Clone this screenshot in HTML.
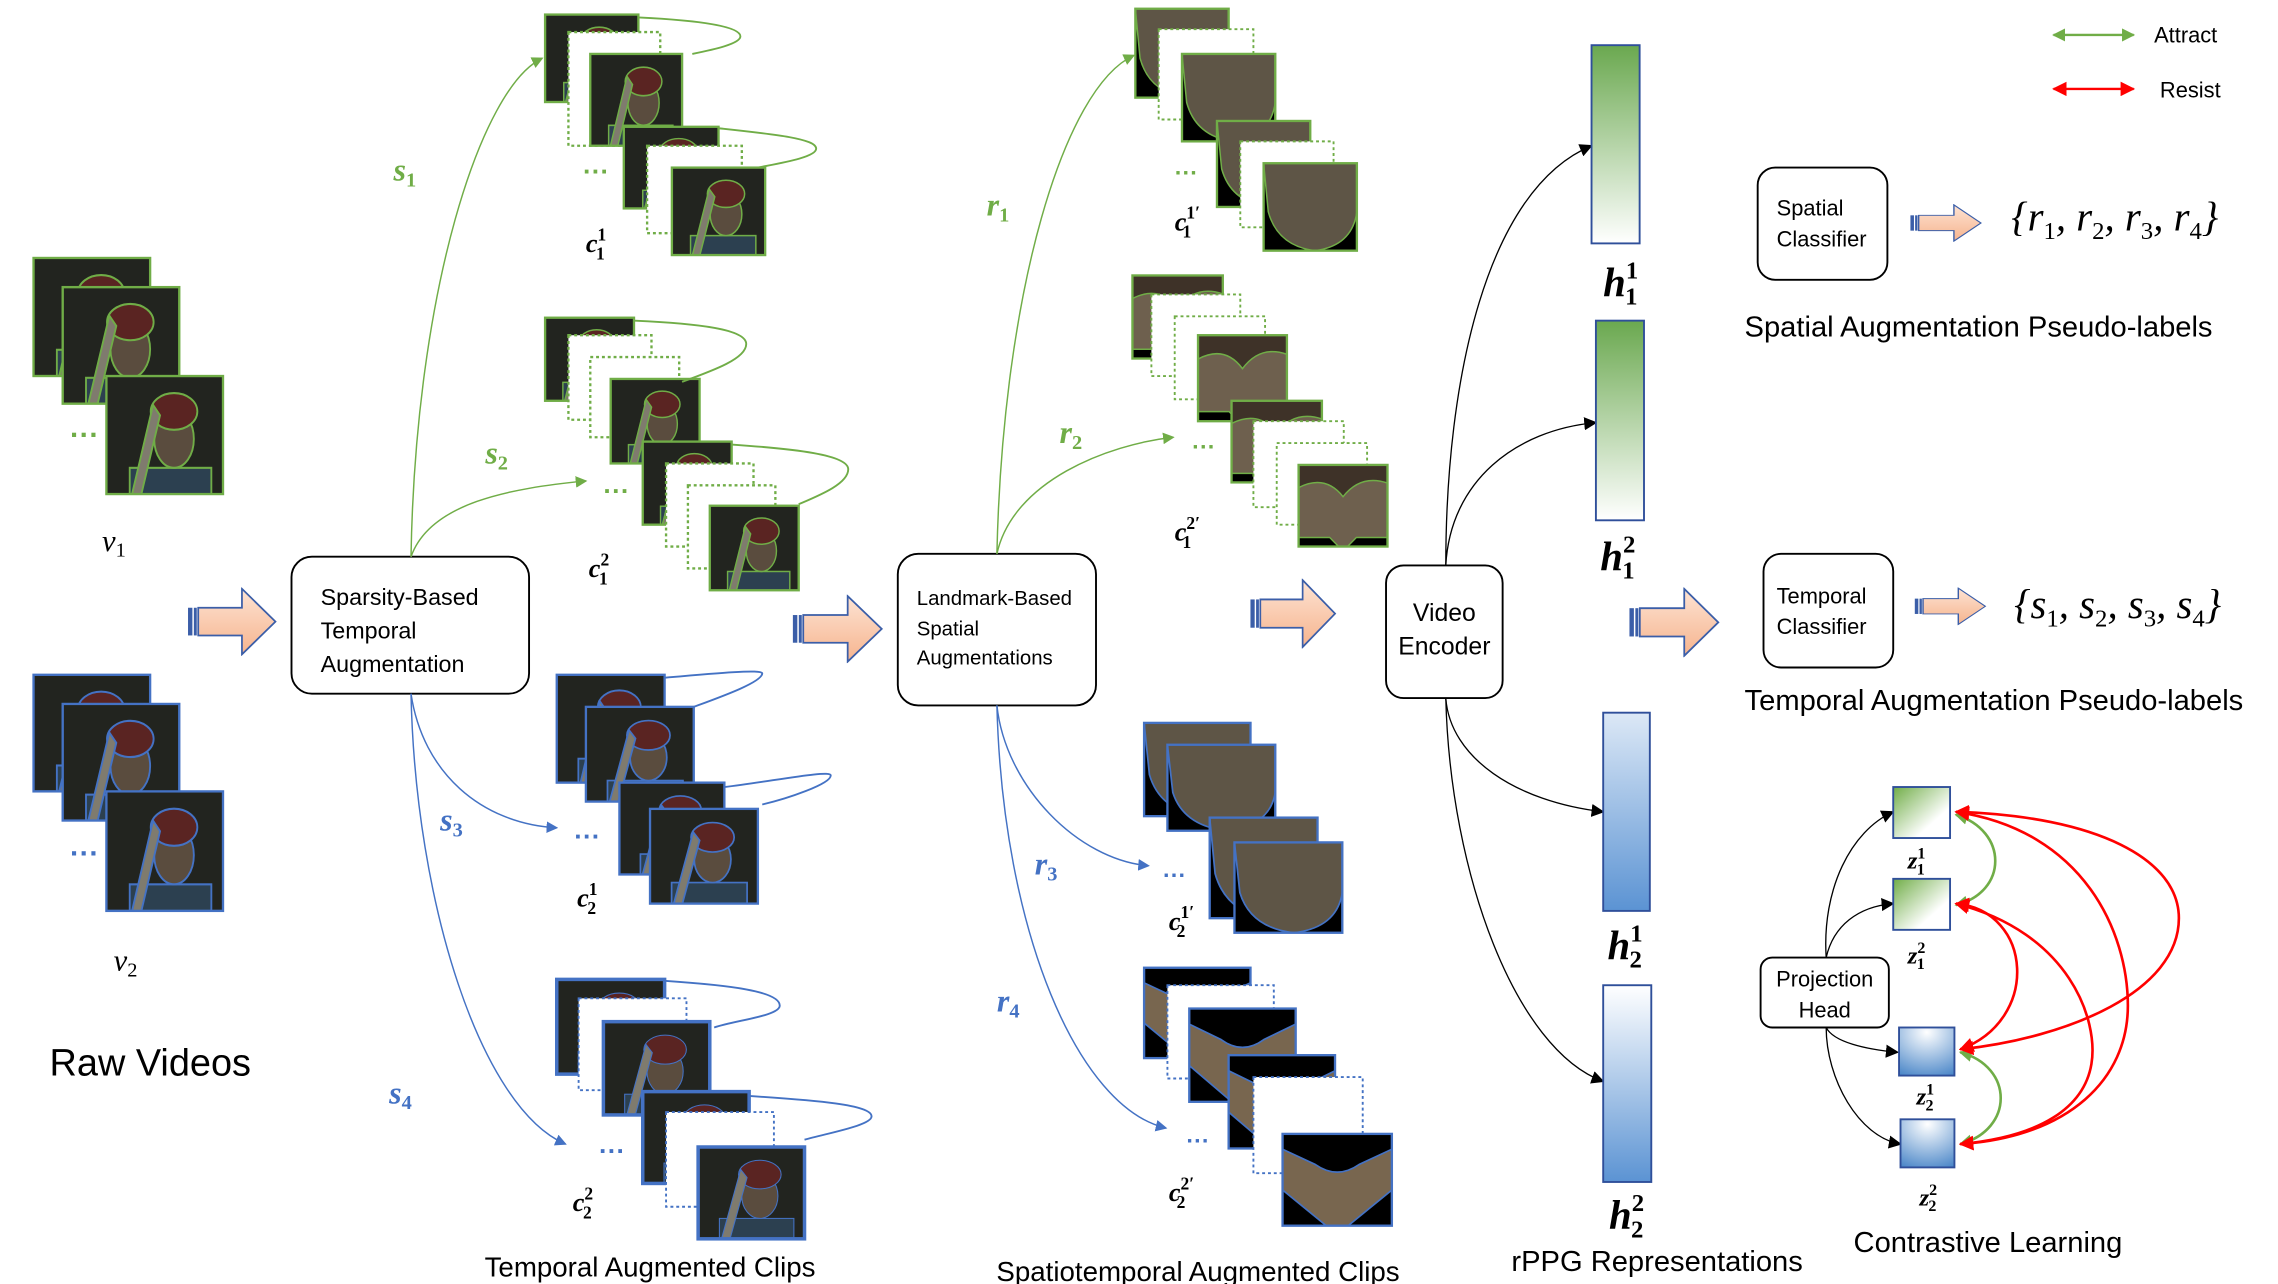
<!DOCTYPE html>
<html><head><meta charset="utf-8"><style>
html,body{margin:0;padding:0;background:#fff;}
svg{display:block;}
text{font-family:"Liberation Sans","DejaVu Sans",sans-serif;}
.m{font-family:"Liberation Serif","DejaVu Serif",serif;font-style:italic;}
</style></head><body>
<svg width="2278" height="1284" viewBox="0 0 1563 881" xmlns="http://www.w3.org/2000/svg">
<defs>
<linearGradient id="ba" x1="0" y1="0" x2="0" y2="1"><stop offset="0" stop-color="#fde3d3"/><stop offset="1" stop-color="#f6b48e"/></linearGradient>
<linearGradient id="gv" x1="0" y1="0" x2="0" y2="1"><stop offset="0" stop-color="#6aa84f"/><stop offset="1" stop-color="#fff"/></linearGradient>
<linearGradient id="bv" x1="0" y1="0" x2="0" y2="1"><stop offset="0" stop-color="#dce8f6"/><stop offset="1" stop-color="#5b93d3"/></linearGradient>
<linearGradient id="bw" x1="0" y1="0" x2="0" y2="1"><stop offset="0" stop-color="#fff"/><stop offset="1" stop-color="#5b93d3"/></linearGradient>
<linearGradient id="gz" x1="0" y1="0" x2="1" y2="1"><stop offset="0" stop-color="#70ad47"/><stop offset="0.7" stop-color="#fff"/></linearGradient>
<radialGradient id="bz" cx="0.5" cy="0.1" r="1"><stop offset="0" stop-color="#fff"/><stop offset="1" stop-color="#4a86c8"/></radialGradient>
<symbol id="p" viewBox="0 0 100 90" preserveAspectRatio="none"><rect width="100" height="90" fill="#22241f"/><rect x="20" y="70" width="70" height="20" fill="#2c4050"/><ellipse cx="58" cy="48" rx="17" ry="22" fill="#5a4c3e"/><ellipse cx="58" cy="27" rx="20" ry="14" fill="#5a2422"/><path d="M40 22 L22 90 L30 90 L46 30Z" fill="#7f7b6e"/></symbol>
<symbol id="f" viewBox="0 0 100 90" preserveAspectRatio="none"><rect width="100" height="90" fill="#000"/><path d="M0 0H100V50Q95 85 55 90Q15 85 5 50Z" fill="#5e5546"/></symbol>
<symbol id="h" viewBox="0 0 100 90" preserveAspectRatio="none"><rect width="100" height="90" fill="#6e604e"/><path d="M0 0H100V20Q70 10 50 35Q30 10 0 25Z" fill="#3e3228"/><path d="M0 80H35L45 90H0Z M100 80H65L55 90H100Z" fill="#000"/></symbol>
<symbol id="c" viewBox="0 0 100 90" preserveAspectRatio="none"><rect width="100" height="90" fill="#000"/><path d="M0 15L30 30Q50 45 70 30L100 15V55L60 90H40L0 55Z" fill="#78664f"/></symbol>
<marker id="ag" markerWidth="8" markerHeight="8" refX="7" refY="4" orient="auto" markerUnits="userSpaceOnUse"><path d="M0 0L8 4L0 8Z" fill="#70ad47"/></marker>
<marker id="ab" markerWidth="8" markerHeight="8" refX="7" refY="4" orient="auto" markerUnits="userSpaceOnUse"><path d="M0 0L8 4L0 8Z" fill="#4472c4"/></marker>
<marker id="ak" markerWidth="9" markerHeight="9" refX="8" refY="4.5" orient="auto" markerUnits="userSpaceOnUse"><path d="M0 0L9 4.5L0 9Z" fill="#000"/></marker>
<marker id="ar" markerWidth="10" markerHeight="10" refX="9" refY="5" orient="auto-start-reverse" markerUnits="userSpaceOnUse"><path d="M0 0L10 5L0 10Z" fill="#f00"/></marker>
<marker id="aG" markerWidth="9" markerHeight="9" refX="8" refY="4.5" orient="auto-start-reverse" markerUnits="userSpaceOnUse"><path d="M0 0L9 4.5L0 9Z" fill="#70ad47"/></marker>
<symbol id="B" viewBox="0 0 62 47" preserveAspectRatio="none"><path d="M8 14H38V1L61 23.5L38 46V33H8Z" fill="url(#ba)" stroke="#3b5ea8" stroke-width="1.2"/><rect x="1" y="14" width="3" height="19" fill="#3b5ea8"/><rect x="5" y="14" width="2" height="19" fill="#3b5ea8"/></symbol>
</defs>

<!-- Raw videos -->
<g stroke="#70ad47" stroke-width="1.6">
<use href="#p" x="23" y="177" width="80" height="81"/><rect x="23" y="177" width="80" height="81" fill="none"/>
<use href="#p" x="43" y="197" width="80" height="80"/><rect x="43" y="197" width="80" height="80" fill="none"/>
<use href="#p" x="73" y="258" width="80" height="81"/><rect x="73" y="258" width="80" height="81" fill="none"/>
</g>
<text x="48" y="305" fill="#70ad47" font-size="20" font-weight="bold">···</text>
<text class="m" x="70" y="378" font-size="21">v<tspan font-size="14" dy="4" font-style="normal">1</tspan></text>
<g stroke="#4472c4" stroke-width="1.6">
<use href="#p" x="23" y="463" width="80" height="80"/><rect x="23" y="463" width="80" height="80" fill="none"/>
<use href="#p" x="43" y="483" width="80" height="80"/><rect x="43" y="483" width="80" height="80" fill="none"/>
<use href="#p" x="73" y="543" width="80" height="82"/><rect x="73" y="543" width="80" height="82" fill="none"/>
</g>
<text x="48" y="592" fill="#4472c4" font-size="20" font-weight="bold">···</text>
<text class="m" x="78" y="666" font-size="21">v<tspan font-size="14" dy="4" font-style="normal">2</tspan></text>
<text x="34" y="738" font-size="26">Raw Videos</text>

<use href="#B" x="128" y="403" width="62" height="47"/>
<rect x="200" y="382" width="163" height="94" rx="14" fill="#fff" stroke="#000" stroke-width="1.3"/>
<text x="220" y="415" font-size="16">Sparsity-Based</text>
<text x="220" y="438" font-size="16">Temporal</text>
<text x="220" y="461" font-size="16">Augmentation</text>

<g fill="none" stroke-width="1">
<path d="M282 382C285 200 330 60 372 40" stroke="#70ad47" marker-end="url(#ag)"/>
<path d="M282 382C295 345 350 335 402 330" stroke="#70ad47" marker-end="url(#ag)"/>
<path d="M282 476C290 530 330 565 382 568" stroke="#4472c4" marker-end="url(#ab)"/>
<path d="M282 476C285 620 330 760 388 785" stroke="#4472c4" marker-end="url(#ab)"/>
</g>
<text class="m" x="270" y="124" fill="#70ad47" font-size="22" font-weight="bold">s<tspan font-size="14" dy="4" font-style="normal">1</tspan></text>
<text class="m" x="333" y="318" fill="#70ad47" font-size="22" font-weight="bold">s<tspan font-size="14" dy="4" font-style="normal">2</tspan></text>
<text class="m" x="302" y="570" fill="#4472c4" font-size="22" font-weight="bold">s<tspan font-size="14" dy="4" font-style="normal">3</tspan></text>
<text class="m" x="267" y="757" fill="#4472c4" font-size="22" font-weight="bold">s<tspan font-size="14" dy="4" font-style="normal">4</tspan></text>

<!-- c1^1 -->
<g stroke="#70ad47" stroke-width="1.6">
<use href="#p" x="374" y="10" width="64" height="60"/><rect x="374" y="10" width="64" height="60" fill="none"/>
<rect x="390" y="22" width="63" height="78" fill="#fff" stroke-dasharray="2,2"/>
<use href="#p" x="405" y="37" width="63" height="63"/><rect x="405" y="37" width="63" height="63" fill="none"/>
<use href="#p" x="428" y="87" width="65" height="56"/><rect x="428" y="87" width="65" height="56" fill="none"/>
<rect x="444" y="100" width="65" height="60" fill="#fff" stroke-dasharray="2,2"/>
<use href="#p" x="461" y="115" width="64" height="60"/><rect x="461" y="115" width="64" height="60" fill="none"/>
<path d="M438 12C480 14 508 18 508 25C508 30 490 34 475 37M493 88C530 92 560 95 560 102C560 108 535 112 520 115" fill="none" stroke-width="1.3"/>
</g>
<text x="400" y="124" fill="#70ad47" font-size="18" font-weight="bold">···</text>
<text class="m" x="402" y="173" font-size="18" font-weight="bold">c<tspan font-size="12" dy="-8" font-style="normal">1</tspan><tspan font-size="12" dx="-7" dy="13" font-style="normal">1</tspan></text>

<!-- c1^2 -->
<g stroke="#70ad47" stroke-width="1.6">
<use href="#p" x="374" y="218" width="61" height="57"/><rect x="374" y="218" width="61" height="57" fill="none"/>
<rect x="390" y="230" width="57" height="58" fill="#fff" stroke-dasharray="2,2"/>
<rect x="405" y="245" width="61" height="55" fill="#fff" stroke-dasharray="2,2"/>
<use href="#p" x="419" y="260" width="61" height="58"/><rect x="419" y="260" width="61" height="58" fill="none"/>
<use href="#p" x="441" y="303" width="61" height="57"/><rect x="441" y="303" width="61" height="57" fill="none"/>
<rect x="457" y="318" width="60" height="57" fill="#fff" stroke-dasharray="2,2"/>
<rect x="472" y="333" width="60" height="57" fill="#fff" stroke-dasharray="2,2"/>
<use href="#p" x="487" y="347" width="61" height="58"/><rect x="487" y="347" width="61" height="58" fill="none"/>
<path d="M435 220C480 222 512 226 512 236C512 246 490 254 468 262M502 305C545 308 582 312 582 322C582 332 562 340 548 346" fill="none" stroke-width="1.3"/>
</g>
<text x="414" y="343" fill="#70ad47" font-size="18" font-weight="bold">···</text>
<text class="m" x="404" y="396" font-size="18" font-weight="bold">c<tspan font-size="12" dy="-8" font-style="normal">2</tspan><tspan font-size="12" dx="-7" dy="13" font-style="normal">1</tspan></text>

<!-- c2^1 -->
<g stroke="#4472c4" stroke-width="1.6">
<use href="#p" x="382" y="463" width="74" height="74"/><rect x="382" y="463" width="74" height="74" fill="none"/>
<use href="#p" x="402" y="485" width="74" height="65"/><rect x="402" y="485" width="74" height="65" fill="none"/>
<use href="#p" x="425" y="537" width="72" height="63"/><rect x="425" y="537" width="72" height="63" fill="none"/>
<use href="#p" x="446" y="555" width="74" height="65"/><rect x="446" y="555" width="74" height="65" fill="none"/>
<path d="M456 465C490 462 523 459 523 462C523 468 495 478 476 485M497 540C530 536 570 528 570 532C570 538 540 548 523 552" fill="none" stroke-width="1.3"/>
</g>
<text x="394" y="580" fill="#4472c4" font-size="18" font-weight="bold">···</text>
<text class="m" x="396" y="622" font-size="18" font-weight="bold">c<tspan font-size="12" dy="-8" font-style="normal">1</tspan><tspan font-size="12" dx="-7" dy="13" font-style="normal">2</tspan></text>

<!-- c2^2 -->
<g stroke="#4472c4">
<use href="#p" x="382" y="672" width="74" height="65"/><rect x="382" y="672" width="74" height="65" fill="none" stroke-width="2.4"/>
<rect x="397" y="685" width="74" height="63" fill="#fff" stroke-dasharray="2,2" stroke-width="1.3"/>
<use href="#p" x="414" y="701" width="73" height="64"/><rect x="414" y="701" width="73" height="64" fill="none" stroke-width="2.4"/>
<use href="#p" x="441" y="749" width="73" height="63"/><rect x="441" y="749" width="73" height="63" fill="none" stroke-width="2.4"/>
<rect x="457" y="763" width="74" height="65" fill="#fff" stroke-dasharray="2,2" stroke-width="1.3"/>
<use href="#p" x="479" y="787" width="73" height="63"/><rect x="479" y="787" width="73" height="63" fill="none" stroke-width="2.4"/>
<path d="M456 673C500 676 535 680 535 690C535 697 505 700 490 705M514 752C560 755 598 758 598 766C598 772 570 777 552 782" fill="none" stroke-width="1.3"/>
</g>
<text x="411" y="796" fill="#4472c4" font-size="18" font-weight="bold">···</text>
<text class="m" x="393" y="831" font-size="18" font-weight="bold">c<tspan font-size="12" dy="-8" font-style="normal">2</tspan><tspan font-size="12" dx="-7" dy="13" font-style="normal">2</tspan></text>
<text x="446" y="876" font-size="19" text-anchor="middle">Temporal Augmented Clips</text>

<use href="#B" x="543" y="408" width="63" height="47"/>
<rect x="616" y="380" width="136" height="104" rx="14" fill="#fff" stroke="#000" stroke-width="1.3"/>
<text x="629" y="415" font-size="14">Landmark-Based</text>
<text x="629" y="436" font-size="14">Spatial</text>
<text x="629" y="456" font-size="14">Augmentations</text>

<g fill="none" stroke-width="1">
<path d="M684 380C688 200 730 60 778 38" stroke="#70ad47" marker-end="url(#ag)"/>
<path d="M684 380C695 330 760 305 805 300" stroke="#70ad47" marker-end="url(#ag)"/>
<path d="M684 484C690 540 740 590 788 594" stroke="#4472c4" marker-end="url(#ab)"/>
<path d="M684 484C688 640 740 760 800 774" stroke="#4472c4" marker-end="url(#ab)"/>
</g>
<text class="m" x="677" y="148" fill="#70ad47" font-size="22" font-weight="bold">r<tspan font-size="14" dy="4" font-style="normal">1</tspan></text>
<text class="m" x="727" y="304" fill="#70ad47" font-size="22" font-weight="bold">r<tspan font-size="14" dy="4" font-style="normal">2</tspan></text>
<text class="m" x="710" y="600" fill="#4472c4" font-size="22" font-weight="bold">r<tspan font-size="14" dy="4" font-style="normal">3</tspan></text>
<text class="m" x="684" y="694" fill="#4472c4" font-size="22" font-weight="bold">r<tspan font-size="14" dy="4" font-style="normal">4</tspan></text>

<!-- c1^1' -->
<g stroke="#70ad47" stroke-width="1.6">
<use href="#f" x="779" y="6" width="64" height="61"/><rect x="779" y="6" width="64" height="61" fill="none"/>
<rect x="795" y="20" width="65" height="62" fill="#fff" stroke-dasharray="2,2" stroke-width="1.3"/>
<use href="#f" x="811" y="37" width="64" height="60"/><rect x="811" y="37" width="64" height="60" fill="none"/>
<use href="#f" x="835" y="83" width="64" height="59"/><rect x="835" y="83" width="64" height="59" fill="none"/>
<rect x="851" y="97" width="64" height="59" fill="#fff" stroke-dasharray="2,2" stroke-width="1.3"/>
<use href="#f" x="867" y="112" width="64" height="60"/><rect x="867" y="112" width="64" height="60" fill="none"/>
</g>
<text x="806" y="124" fill="#70ad47" font-size="16" font-weight="bold">···</text>
<text class="m" x="806" y="158" font-size="18" font-weight="bold">c<tspan font-size="12" dy="-8" font-style="normal">1′</tspan><tspan font-size="12" dx="-12" dy="13" font-style="normal">1</tspan></text>

<!-- c1^2' -->
<g stroke="#70ad47" stroke-width="1.6">
<use href="#h" x="777" y="189" width="62" height="57"/><rect x="777" y="189" width="62" height="57" fill="none"/>
<rect x="790" y="202" width="61" height="56" fill="#fff" stroke-dasharray="2,2" stroke-width="1.3"/>
<rect x="806" y="217" width="62" height="57" fill="#fff" stroke-dasharray="2,2" stroke-width="1.3"/>
<use href="#h" x="822" y="230" width="61" height="59"/><rect x="822" y="230" width="61" height="59" fill="none"/>
<use href="#h" x="845" y="275" width="62" height="56"/><rect x="845" y="275" width="62" height="56" fill="none"/>
<rect x="860" y="289" width="62" height="59" fill="#fff" stroke-dasharray="2,2" stroke-width="1.3"/>
<rect x="876" y="304" width="62" height="56" fill="#fff" stroke-dasharray="2,2" stroke-width="1.3"/>
<use href="#h" x="891" y="319" width="61" height="56"/><rect x="891" y="319" width="61" height="56" fill="none"/>
</g>
<text x="818" y="312" fill="#70ad47" font-size="16" font-weight="bold">···</text>
<text class="m" x="806" y="371" font-size="18" font-weight="bold">c<tspan font-size="12" dy="-8" font-style="normal">2′</tspan><tspan font-size="12" dx="-12" dy="13" font-style="normal">1</tspan></text>

<!-- c2^1' -->
<g stroke="#4472c4" stroke-width="1.6">
<use href="#f" x="785" y="496" width="73" height="64"/><rect x="785" y="496" width="73" height="64" fill="none"/>
<use href="#f" x="801" y="511" width="74" height="59"/><rect x="801" y="511" width="74" height="59" fill="none"/>
<use href="#f" x="830" y="561" width="74" height="69"/><rect x="830" y="561" width="74" height="69" fill="none"/>
<use href="#f" x="847" y="578" width="74" height="62"/><rect x="847" y="578" width="74" height="62" fill="none"/>
</g>
<text x="798" y="606" fill="#4472c4" font-size="16" font-weight="bold">···</text>
<text class="m" x="802" y="638" font-size="18" font-weight="bold">c<tspan font-size="12" dy="-8" font-style="normal">1′</tspan><tspan font-size="12" dx="-12" dy="13" font-style="normal">2</tspan></text>

<!-- c2^2' -->
<g stroke="#4472c4" stroke-width="1.6">
<use href="#c" x="785" y="664" width="73" height="62"/><rect x="785" y="664" width="73" height="62" fill="none"/>
<rect x="801" y="676" width="73" height="64" fill="#fff" stroke-dasharray="2,2" stroke-width="1.3"/>
<use href="#c" x="816" y="692" width="73" height="64"/><rect x="816" y="692" width="73" height="64" fill="none"/>
<use href="#c" x="843" y="724" width="73" height="64"/><rect x="843" y="724" width="73" height="64" fill="none"/>
<rect x="860" y="739" width="75" height="66" fill="#fff" stroke-dasharray="2,2" stroke-width="1.3"/>
<use href="#c" x="880" y="778" width="75" height="63"/><rect x="880" y="778" width="75" height="63" fill="none"/>
</g>
<text x="814" y="788" fill="#4472c4" font-size="16" font-weight="bold">···</text>
<text class="m" x="802" y="824" font-size="18" font-weight="bold">c<tspan font-size="12" dy="-8" font-style="normal">2′</tspan><tspan font-size="12" dx="-12" dy="13" font-style="normal">2</tspan></text>
<text x="822" y="879" font-size="19" text-anchor="middle">Spatiotemporal Augmented Clips</text>

<use href="#B" x="857" y="397" width="60" height="48"/>
<rect x="951" y="388" width="80" height="91" rx="12" fill="#fff" stroke="#000" stroke-width="1.3"/>
<text x="991" y="426" font-size="17" text-anchor="middle">Video</text>
<text x="991" y="449" font-size="17" text-anchor="middle">Encoder</text>

<g fill="none" stroke="#000" stroke-width="0.9">
<path d="M992 388C992 260 1020 130 1092 100" marker-end="url(#ak)"/>
<path d="M992 388C995 330 1040 295 1095 290" marker-end="url(#ak)"/>
<path d="M992 479C995 520 1040 550 1100 557" marker-end="url(#ak)"/>
<path d="M992 479C995 600 1040 720 1100 742" marker-end="url(#ak)"/>
</g>
<rect x="1092" y="31" width="33" height="136" fill="url(#gv)" stroke="#2f4f9a" stroke-width="1.3"/>
<rect x="1095" y="220" width="33" height="137" fill="url(#gv)" stroke="#2f4f9a" stroke-width="1.3"/>
<rect x="1100" y="489" width="32" height="136" fill="url(#bv)" stroke="#2f4f9a" stroke-width="1.3"/>
<rect x="1100" y="676" width="33" height="135" fill="url(#bw)" stroke="#2f4f9a" stroke-width="1.3"/>
<text class="m" x="1100" y="203" font-size="28" font-weight="bold">h<tspan font-size="17" dy="-12" font-style="normal">1</tspan><tspan font-size="17" dx="-9" dy="18" font-style="normal">1</tspan></text>
<text class="m" x="1098" y="391" font-size="28" font-weight="bold">h<tspan font-size="17" dy="-12" font-style="normal">2</tspan><tspan font-size="17" dx="-9" dy="18" font-style="normal">1</tspan></text>
<text class="m" x="1103" y="658" font-size="28" font-weight="bold">h<tspan font-size="17" dy="-12" font-style="normal">1</tspan><tspan font-size="17" dx="-9" dy="18" font-style="normal">2</tspan></text>
<text class="m" x="1104" y="843" font-size="28" font-weight="bold">h<tspan font-size="17" dy="-12" font-style="normal">2</tspan><tspan font-size="17" dx="-9" dy="18" font-style="normal">2</tspan></text>
<text x="1137" y="872" font-size="20" text-anchor="middle">rPPG Representations</text>

<use href="#B" x="1117" y="403" width="63" height="48"/>

<line x1="1409" y1="24" x2="1464" y2="24" stroke="#70ad47" stroke-width="1.6" marker-start="url(#aG)" marker-end="url(#aG)"/>
<text x="1478" y="29" font-size="15">Attract</text>
<line x1="1409" y1="61" x2="1464" y2="61" stroke="#f00" stroke-width="1.6" marker-start="url(#ar)" marker-end="url(#ar)"/>
<text x="1482" y="67" font-size="15">Resist</text>

<rect x="1206" y="115" width="89" height="77" rx="12" fill="#fff" stroke="#000" stroke-width="1.3"/>
<text x="1219" y="148" font-size="15">Spatial</text>
<text x="1219" y="169" font-size="15">Classifier</text>
<use href="#B" x="1310" y="140" width="50" height="26"/>
<text class="m" x="1380" y="158" font-size="28">{r<tspan font-size="17" dy="6" font-style="normal">1</tspan><tspan dy="-6">, r</tspan><tspan font-size="17" dy="6" font-style="normal">2</tspan><tspan dy="-6">, r</tspan><tspan font-size="17" dy="6" font-style="normal">3</tspan><tspan dy="-6">, r</tspan><tspan font-size="17" dy="6" font-style="normal">4</tspan><tspan dy="-6">}</tspan></text>
<text x="1197" y="231" font-size="20">Spatial Augmentation Pseudo-labels</text>

<rect x="1210" y="380" width="89" height="78" rx="12" fill="#fff" stroke="#000" stroke-width="1.3"/>
<text x="1219" y="414" font-size="15">Temporal</text>
<text x="1219" y="435" font-size="15">Classifier</text>
<use href="#B" x="1313" y="403" width="50" height="26"/>
<text class="m" x="1382" y="424" font-size="28">{s<tspan font-size="17" dy="6" font-style="normal">1</tspan><tspan dy="-6">, s</tspan><tspan font-size="17" dy="6" font-style="normal">2</tspan><tspan dy="-6">, s</tspan><tspan font-size="17" dy="6" font-style="normal">3</tspan><tspan dy="-6">, s</tspan><tspan font-size="17" dy="6" font-style="normal">4</tspan><tspan dy="-6">}</tspan></text>
<text x="1197" y="487" font-size="20">Temporal Augmentation Pseudo-labels</text>

<g fill="none" stroke="#000" stroke-width="0.9">
<path d="M1253 657C1250 610 1270 570 1299 557" marker-end="url(#ak)"/>
<path d="M1253 657C1258 635 1275 622 1299 620" marker-end="url(#ak)"/>
<path d="M1253 705C1258 715 1280 720 1302 722" marker-end="url(#ak)"/>
<path d="M1253 705C1253 740 1275 780 1304 785" marker-end="url(#ak)"/>
</g>
<rect x="1208" y="657" width="88" height="48" rx="8" fill="#fff" stroke="#000" stroke-width="1.3"/>
<text x="1252" y="677" font-size="15" text-anchor="middle">Projection</text>
<text x="1252" y="698" font-size="15" text-anchor="middle">Head</text>
<rect x="1299" y="540" width="39" height="35" fill="url(#gz)" stroke="#2f4f9a" stroke-width="1.3"/>
<rect x="1299" y="603" width="39" height="35" fill="url(#gz)" stroke="#2f4f9a" stroke-width="1.3"/>
<rect x="1303" y="705" width="38" height="33" fill="url(#bz)" stroke="#2f4f9a" stroke-width="1.3"/>
<rect x="1304" y="768" width="37" height="33" fill="url(#bz)" stroke="#2f4f9a" stroke-width="1.3"/>
<g fill="none" stroke-width="1.8">
<path d="M1342 559C1378 570 1378 612 1342 621" stroke="#70ad47" marker-start="url(#aG)" marker-end="url(#aG)"/>
<path d="M1345 722C1382 732 1382 775 1345 785" stroke="#70ad47" marker-start="url(#aG)" marker-end="url(#aG)"/>
<path d="M1342 557C1440 560 1495 590 1495 630C1495 680 1420 712 1345 720" stroke="#f00" marker-start="url(#ar)" marker-end="url(#ar)"/>
<path d="M1342 557C1430 570 1460 640 1460 690C1460 740 1420 780 1345 785" stroke="#f00" marker-start="url(#ar)" marker-end="url(#ar)"/>
<path d="M1342 620C1395 625 1400 700 1345 720" stroke="#f00" marker-start="url(#ar)" marker-end="url(#ar)"/>
<path d="M1342 620C1420 640 1440 700 1435 730C1430 760 1400 780 1345 785" stroke="#f00" marker-start="url(#ar)" marker-end="url(#ar)"/>
</g>
<text class="m" x="1309" y="596" font-size="17" font-weight="bold">z<tspan font-size="11" dy="-7" font-style="normal">1</tspan><tspan font-size="11" dx="-6" dy="11" font-style="normal">1</tspan></text>
<text class="m" x="1309" y="661" font-size="17" font-weight="bold">z<tspan font-size="11" dy="-7" font-style="normal">2</tspan><tspan font-size="11" dx="-6" dy="11" font-style="normal">1</tspan></text>
<text class="m" x="1315" y="758" font-size="17" font-weight="bold">z<tspan font-size="11" dy="-7" font-style="normal">1</tspan><tspan font-size="11" dx="-6" dy="11" font-style="normal">2</tspan></text>
<text class="m" x="1317" y="827" font-size="17" font-weight="bold">z<tspan font-size="11" dy="-7" font-style="normal">2</tspan><tspan font-size="11" dx="-6" dy="11" font-style="normal">2</tspan></text>
<text x="1364" y="859" font-size="20" text-anchor="middle">Contrastive Learning</text>
</svg>
</body></html>
